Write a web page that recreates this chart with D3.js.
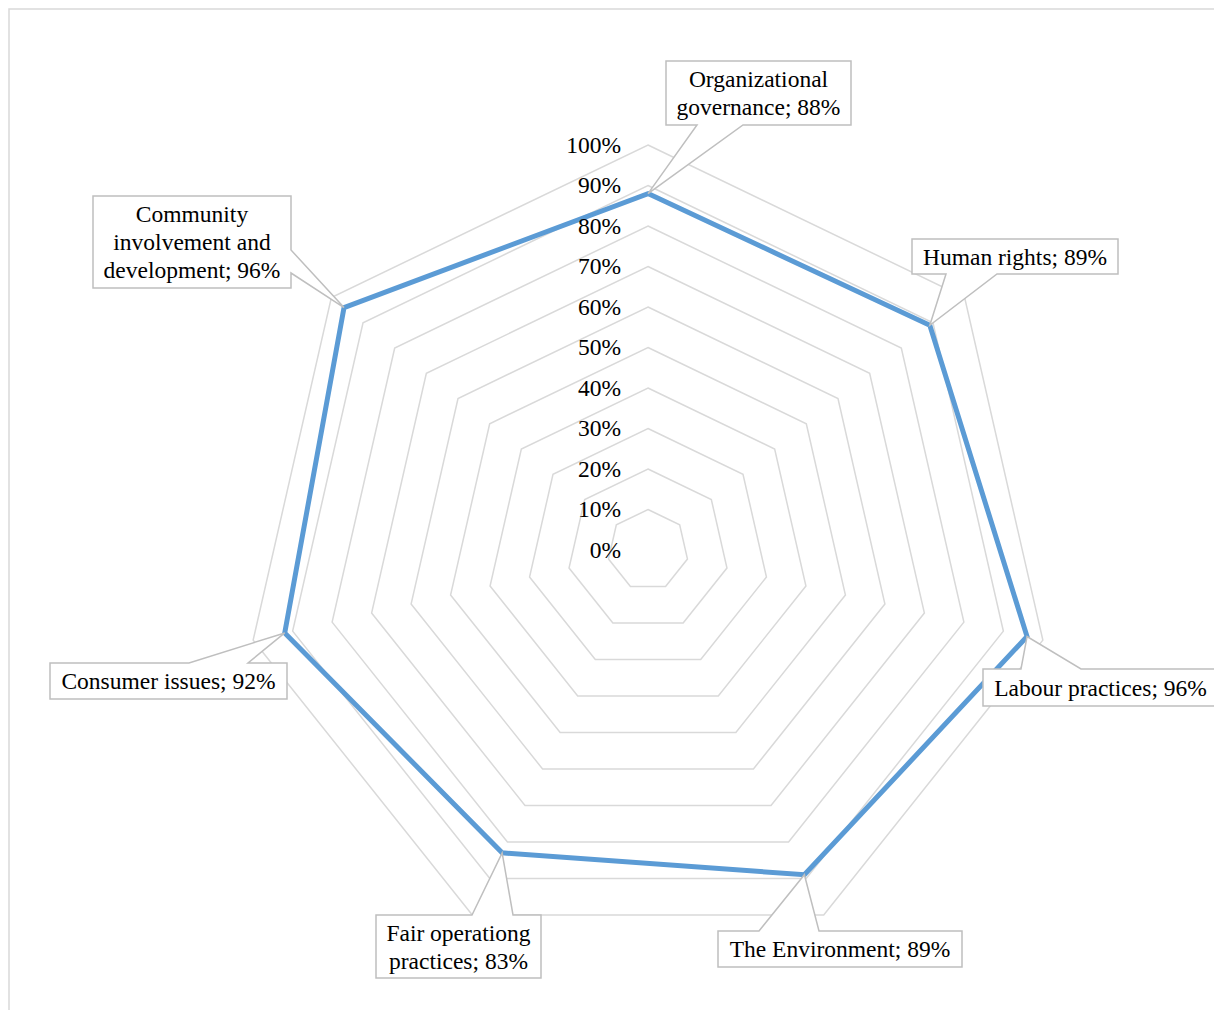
<!DOCTYPE html>
<html>
<head>
<meta charset="utf-8">
<script src="https://cdn.jsdelivr.net/npm/d3@7"></script>
<style>
  html, body { margin: 0; padding: 0; background: #fff; }
  svg { display: block; }
  text { font-family: "Liberation Serif", "Times New Roman", serif; fill: #000; }
</style>
</head>
<body>
<svg id="chart" width="1214" height="1010"></svg>
<script>
// ---- data ----
const categories = [
  "Organizational governance",
  "Human rights",
  "Labour practices",
  "The Environment",
  "Fair operationg practices",
  "Consumer issues",
  "Community involvement and development"
];
const values = [0.88, 0.89, 0.96, 0.89, 0.83, 0.92, 0.96];
const tickValues = [0, 0.1, 0.2, 0.3, 0.4, 0.5, 0.6, 0.7, 0.8, 0.9, 1.0];
const tickLabels = ["0%", "10%", "20%", "30%", "40%", "50%", "60%", "70%", "80%", "90%", "100%"];
// word counts after which label lines break (layout)
const labelBreaks = [[1], [], [], [], [2], [], [1, 3]];
// callout boxes (layout)
const labelBoxes = [
  {x: 666, y: 61,  w: 185, h: 64, side: "bottom", a: 697,  b: 743},
  {x: 912, y: 239, w: 206, h: 35, side: "bottom", a: 946,  b: 997},
  {x: 983, y: 669, w: 235, h: 37, side: "top",    a: 1021, b: 1081},
  {x: 718, y: 931, w: 244, h: 36, side: "top",    a: 759,  b: 819},
  {x: 376, y: 915, w: 165, h: 63, side: "top",    a: 472,  b: 513},
  {x: 50,  y: 663, w: 237, h: 36, side: "top",    a: 189,  b: 248},
  {x: 93,  y: 196, w: 198, h: 92, side: "right",  a: 250,  b: 273}
];

// ---- layout ----
const W = 1214, H = 1010;
const cx = 648, cy = 550, R = 405;
const fontSize = 23.5, lineH = 28;

const svg = d3.select("#chart");

// frame
svg.append("path")
  .attr("d", `M9,${H + 5} L9,9 L${W + 5},9`)
  .attr("fill", "none").attr("stroke", "#d9d9d9").attr("stroke-width", 1.5);

const r = d3.scaleLinear().domain([0, 1]).range([0, R]);
const angle = d3.scaleLinear().domain([0, categories.length]).range([0, 2 * Math.PI]);
const fmt = d3.format(".0%");

const radial = d3.lineRadial()
  .angle((d, i) => angle(i))
  .radius(d => r(d))
  .curve(d3.curveLinearClosed);

const g = svg.append("g").attr("transform", `translate(${cx},${cy})`);

// grid rings
g.selectAll("path.ring")
  .data(tickValues.filter(v => v > 0))
  .join("path")
  .attr("class", "ring")
  .attr("d", v => radial(categories.map(() => v)))
  .attr("fill", "none")
  .attr("stroke", "#d9d9d9")
  .attr("stroke-width", 1.5);

// data line
g.append("path")
  .attr("d", radial(values))
  .attr("fill", "none")
  .attr("stroke", "#5b9bd5")
  .attr("stroke-width", 5)
  .attr("stroke-linejoin", "miter");

// tick labels
svg.append("g").selectAll("text")
  .data(tickValues)
  .join("text")
  .attr("x", 621)
  .attr("y", v => cy - r(v))
  .attr("dy", "0.33em")
  .attr("text-anchor", "end")
  .style("font-size", fontSize + "px")
  .text((v, i) => tickLabels[i]);

// point positions
function pointOf(i) {
  const a = angle(i), rr = r(values[i]);
  return [cx + rr * Math.sin(a), cy - rr * Math.cos(a)];
}

function calloutPath(b, tip) {
  const x0 = b.x, y0 = b.y, x1 = b.x + b.w, y1 = b.y + b.h;
  const [tx, ty] = tip;
  if (b.side === "top") {
    return `M${x0},${y0} L${b.a},${y0} L${tx},${ty} L${b.b},${y0} L${x1},${y0} L${x1},${y1} L${x0},${y1} Z`;
  } else if (b.side === "bottom") {
    return `M${x0},${y0} L${x1},${y0} L${x1},${y1} L${b.b},${y1} L${tx},${ty} L${b.a},${y1} L${x0},${y1} Z`;
  } else if (b.side === "right") {
    return `M${x0},${y0} L${x1},${y0} L${x1},${b.a} L${tx},${ty} L${x1},${b.b} L${x1},${y1} L${x0},${y1} Z`;
  } else {
    return `M${x0},${y0} L${x1},${y0} L${x1},${y1} L${x0},${y1} L${x0},${b.b} L${tx},${ty} L${x0},${b.a} Z`;
  }
}

function labelLines(i) {
  const words = `${categories[i]}; ${fmt(values[i])}`.split(" ");
  const br = labelBreaks[i];
  const lines = [];
  let start = 0;
  br.forEach(k => { lines.push(words.slice(start, k).join(" ")); start = k; });
  lines.push(words.slice(start).join(" "));
  return lines;
}

const labels = svg.append("g").selectAll("g")
  .data(categories.map((c, i) => i))
  .join("g");

labels.append("path")
  .attr("d", i => calloutPath(labelBoxes[i], pointOf(i)))
  .attr("fill", "#fff")
  .attr("stroke", "#bfbfbf")
  .attr("stroke-width", 1.5)
  .attr("stroke-linejoin", "miter");

labels.each(function(i) {
  const b = labelBoxes[i];
  const lines = labelLines(i);
  const midY = b.y + b.h / 2;
  const t = d3.select(this).append("text")
    .attr("text-anchor", "middle")
    .style("font-size", fontSize + "px");
  lines.forEach((ln, k) => {
    t.append("tspan")
      .attr("x", b.x + b.w / 2)
      .attr("y", midY + (k - (lines.length - 1) / 2) * lineH)
      .attr("dy", "0.36em")
      .text(ln);
  });
});
</script>
</body>
</html>
